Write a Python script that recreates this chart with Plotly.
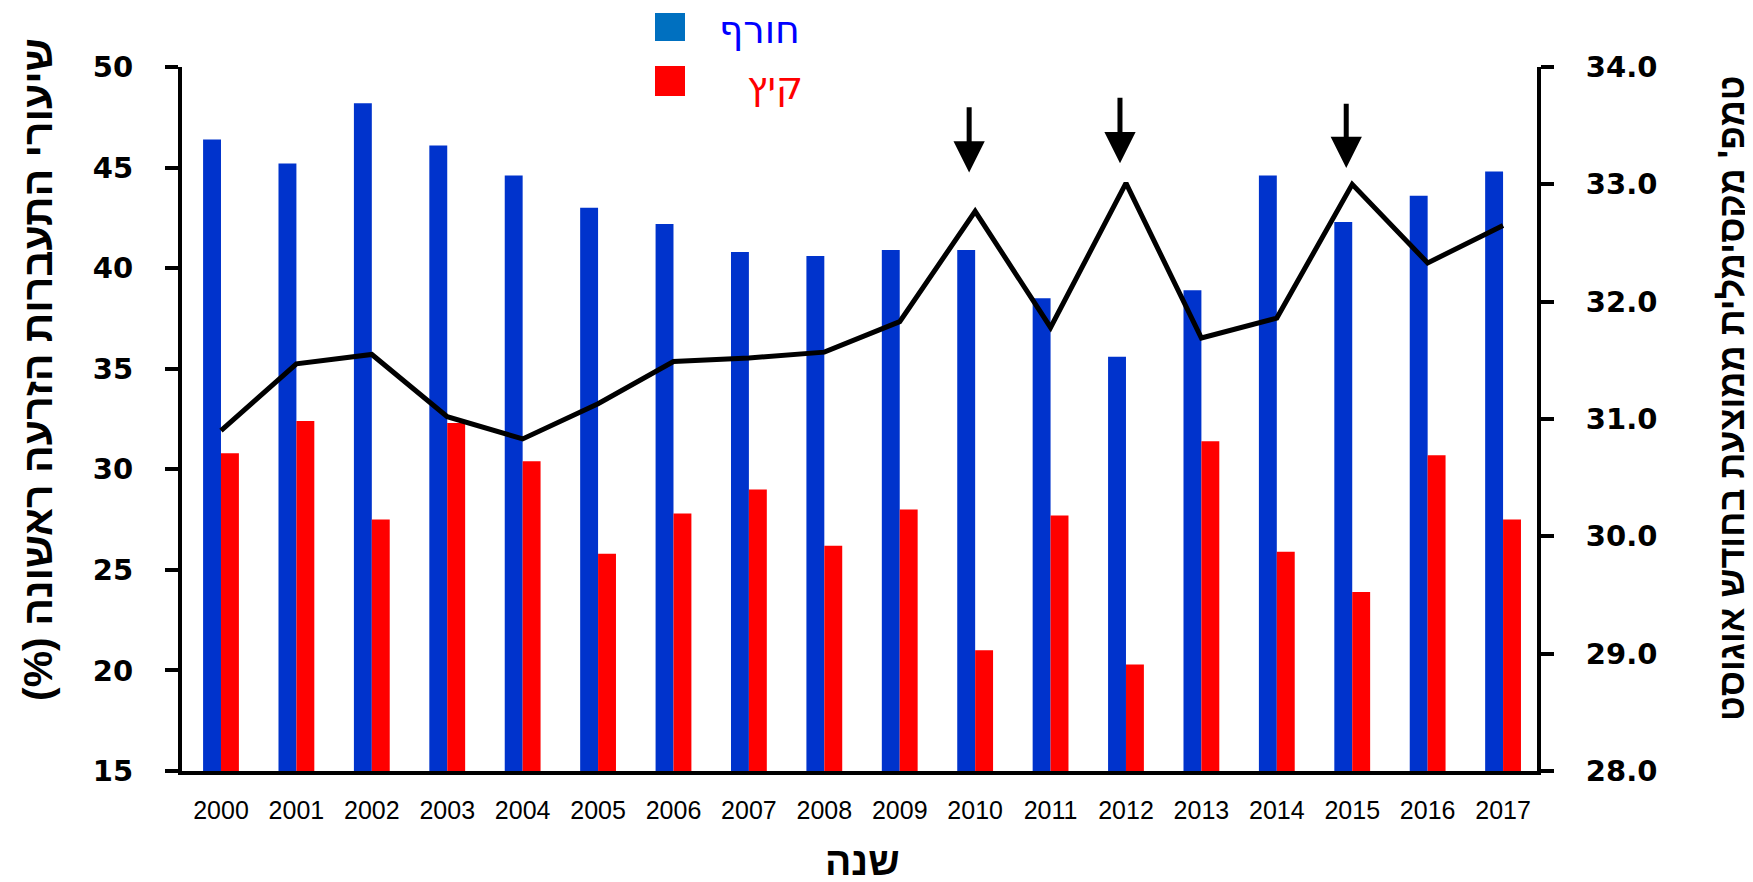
import plotly.graph_objects as go

years = ["2000", "2001", "2002", "2003", "2004", "2005", "2006", "2007", "2008",
         "2009", "2010", "2011", "2012", "2013", "2014", "2015", "2016", "2017"]
winter = [46.4, 45.2, 48.2, 46.1, 44.6, 43.0, 42.2, 40.8, 40.6,
          40.9, 40.9, 38.5, 35.6, 38.9, 44.6, 42.3, 43.6, 44.8]
summer = [30.8, 32.4, 27.5, 32.3, 30.4, 25.8, 27.8, 29.0, 26.2,
          28.0, 21.0, 27.7, 20.3, 31.4, 25.9, 23.9, 30.7, 27.5]
aug_max_temp = [30.9, 31.47, 31.55, 31.02, 30.83, 31.13, 31.49, 31.52, 31.57,
                31.83, 32.77, 31.78, 33.01, 31.69, 31.86, 33.0, 32.33, 32.65]
# arrows: (year, tip value, tail value) on right axis
arrows = [("2010", 33.10, 33.67), ("2012", 33.18, 33.75), ("2015", 33.14, 33.70)]

OFF = 8  # page body margin
W, H = 1753 - OFF, 882 - OFF
# plot area in page pixels
L, R, T, B = 182, 1537, 67, 771

def px(x):
    return (x - L) / (R - L)

def py(y):
    return (B - y) / (B - T)

fig = go.Figure()
fig.add_trace(go.Bar(x=years, y=winter, name="חורף", marker_color="#0033CC",
                     marker_line_width=0, showlegend=False))
fig.add_trace(go.Bar(x=years, y=summer, name="קיץ", marker_color="#FF0000",
                     marker_line_width=0, showlegend=False))
fig.add_trace(go.Scatter(x=years, y=aug_max_temp, yaxis="y2", mode="lines",
                         line=dict(color="black", width=5), showlegend=False))

annotations = []
for yr, tip, tail in arrows:
    i = years.index(yr)
    annotations.append(dict(x=i, y=tip, xref="x", yref="y2", ax=i, ay=tail,
                            axref="x", ayref="y2", showarrow=True, arrowhead=2,
                            arrowsize=1.25, arrowwidth=5, arrowcolor="black",
                            xshift=-6, text=""))

bold = dict(family="Liberation Sans, DejaVu Sans", color="black", weight="bold")
annotations.append(dict(text="\u200fשיעורי התעברות הזרעה ראשונה (%)\u200f", textangle=-90,
                        xref="paper", yref="paper", x=px(38), y=py(370),
                        xanchor="center", yanchor="middle", showarrow=False,
                        font=dict(bold, size=41)))
annotations.append(dict(text="\u200fטמפ' מקסימלית ממוצעת בחודש אוגוסט\u200f", textangle=-90,
                        xref="paper", yref="paper", x=px(1731), y=py(398),
                        xanchor="center", yanchor="middle", showarrow=False,
                        font=dict(bold, size=36)))
annotations.append(dict(text="שנה", xref="paper", yref="paper",
                        x=px(862), y=py(861), xanchor="center", yanchor="middle",
                        showarrow=False, font=dict(bold, size=39)))
# legend texts
legend_font = "DejaVu Sans"
annotations.append(dict(text="חורף", xref="paper", yref="paper", x=px(802), y=py(30),
                        xanchor="right", yanchor="middle", showarrow=False,
                        font=dict(family=legend_font, size=38, color="#0000FF")))
annotations.append(dict(text="קיץ", xref="paper", yref="paper", x=px(805), y=py(86),
                        xanchor="right", yanchor="middle", showarrow=False,
                        font=dict(family=legend_font, size=38, color="#FF0000")))

shapes = [
    dict(type="rect", xref="paper", yref="paper", x0=px(655), x1=px(685),
         y0=py(41), y1=py(13), fillcolor="#0070C0", line_width=0),
    dict(type="rect", xref="paper", yref="paper", x0=px(655), x1=px(685),
         y0=py(96), y1=py(66), fillcolor="#FF0000", line_width=0),
]

fig.update_layout(
    width=W, height=H,
    margin=dict(l=L - OFF, r=W - (R - OFF), t=T - OFF, b=H - (B - OFF)),
    paper_bgcolor="white", plot_bgcolor="white",
    barmode="group", bargap=0.525, bargroupgap=0,
    showlegend=False,
    xaxis=dict(type="category", range=[-0.517, 17.45], showline=True, linecolor="black",
               linewidth=4, ticks="", showgrid=False, zeroline=False,
               tickfont=dict(family="Liberation Sans", size=25, color="black"),
               ticklabelstandoff=14),
    yaxis=dict(range=[15, 50], dtick=5, showline=True, linecolor="black", linewidth=4,
               ticks="outside", ticklen=13, tickwidth=4, tickcolor="black",
               showgrid=False, zeroline=False,
               tickfont=dict(family="DejaVu Sans", size=29, color="black", weight="bold"),
               ticklabelstandoff=26),
    yaxis2=dict(range=[28, 34], dtick=1, tickformat=".1f", overlaying="y", side="right",
                showline=True, linecolor="black", linewidth=4,
                ticks="outside", ticklen=13, tickwidth=4, tickcolor="black",
                showgrid=False, zeroline=False,
                tickfont=dict(family="DejaVu Sans", size=29, color="black", weight="bold"),
                ticklabelstandoff=26),
    annotations=annotations,
    shapes=shapes,
)

fig.write_html("out.html")
